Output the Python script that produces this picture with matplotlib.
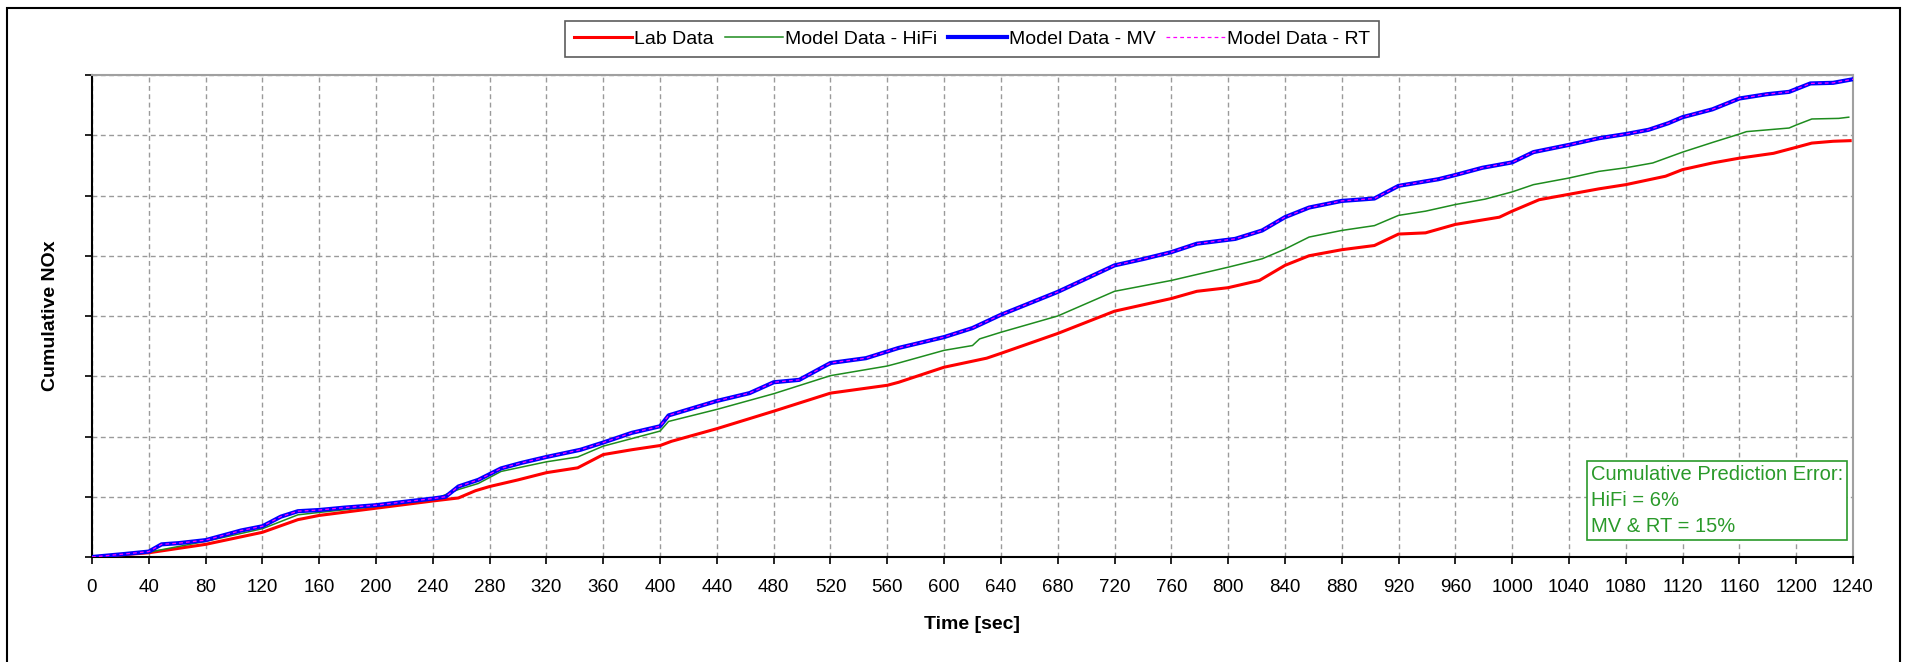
import matplotlib
matplotlib.use('Agg')
import matplotlib.pyplot as plt
from matplotlib.patches import Rectangle

plt.rcParams['font.family'] = ['Liberation Sans', 'DejaVu Sans']

# Values (y in grid units, the chart has no y tick labels)
lab_t = [0, 40, 80, 120, 145, 160, 200, 240, 258, 270, 280, 300, 320, 342, 360, 380, 400, 408,
         440, 480, 520, 560, 568, 600, 630, 640, 680, 720, 760, 778, 800, 822, 840, 857, 880, 903,
         920, 939, 960, 991, 1000, 1019, 1040, 1061, 1080, 1108, 1120, 1141, 1160, 1184, 1200,
         1211, 1226, 1238]
lab_v = [0, 0.07, 0.21, 0.41, 0.62, 0.69, 0.81, 0.93, 0.98, 1.10, 1.17, 1.28, 1.40, 1.48, 1.70,
         1.78, 1.85, 1.92, 2.13, 2.42, 2.72, 2.85, 2.90, 3.15, 3.30, 3.38, 3.71, 4.08, 4.29, 4.41,
         4.47, 4.59, 4.84, 5.00, 5.10, 5.17, 5.36, 5.38, 5.52, 5.64, 5.74, 5.93, 6.02, 6.11, 6.18,
         6.32, 6.43, 6.54, 6.62, 6.70, 6.80, 6.87, 6.90, 6.91]

hifi_t = [0, 40, 80, 120, 145, 160, 200, 240, 258, 272, 288, 320, 342, 360, 400, 406, 440, 480,
          520, 560, 568, 600, 620, 625, 640, 680, 720, 760, 800, 824, 840, 857, 880, 903, 920, 939,
          960, 981, 1000, 1015, 1040, 1061, 1080, 1099, 1120, 1141, 1160, 1165, 1195, 1200, 1211,
          1230, 1237]
hifi_v = [0, 0.08, 0.26, 0.47, 0.70, 0.74, 0.84, 0.95, 1.12, 1.22, 1.42, 1.58, 1.66, 1.84, 2.09,
          2.25, 2.45, 2.71, 3.01, 3.17, 3.22, 3.43, 3.51, 3.62, 3.73, 4.00, 4.41, 4.59, 4.81, 4.95,
          5.11, 5.31, 5.42, 5.50, 5.67, 5.74, 5.85, 5.94, 6.06, 6.18, 6.29, 6.40, 6.46, 6.54, 6.72,
          6.88, 7.02, 7.06, 7.12, 7.17, 7.27, 7.28, 7.30]

mv_t = [0, 23, 40, 49, 61, 80, 91, 105, 120, 133, 145, 160, 178, 200, 225, 240, 249, 258, 272,
        288, 302, 320, 344, 360, 380, 400, 406, 440, 463, 480, 498, 520, 545, 568, 600, 620, 640,
        680, 700, 720, 741, 760, 778, 805, 824, 840, 857, 880, 903, 920, 948, 960, 979, 1000, 1015,
        1040, 1061, 1080, 1096, 1110, 1120, 1141, 1160, 1179, 1195, 1210, 1226, 1240]
mv_v = [0, 0.05, 0.09, 0.21, 0.23, 0.28, 0.35, 0.44, 0.51, 0.67, 0.76, 0.78, 0.82, 0.86, 0.93,
        0.97, 1.00, 1.17, 1.28, 1.47, 1.56, 1.66, 1.78, 1.90, 2.06, 2.17, 2.35, 2.59, 2.72, 2.90,
        2.94, 3.22, 3.30, 3.47, 3.65, 3.80, 4.02, 4.40, 4.62, 4.84, 4.95, 5.06, 5.20, 5.28, 5.42,
        5.64, 5.80, 5.91, 5.95, 6.16, 6.27, 6.34, 6.46, 6.55, 6.72, 6.84, 6.95, 7.02, 7.09, 7.20,
        7.30, 7.43, 7.61, 7.68, 7.72, 7.86, 7.87, 7.93]

# RT model overlays the MV model exactly
rt_t = mv_t
rt_v = mv_v

x_ticks = list(range(0, 1241, 40))
y_ticks = list(range(0, 9))

fig = plt.figure(figsize=(19.06, 6.62), dpi=100)
ax = fig.add_axes([92 / 1906, 1 - 557 / 662, (1853 - 92) / 1906, (557 - 75) / 662])

ax.plot(lab_t, lab_v, color='#ff0000', lw=2.2, label='Lab Data', zorder=3)
ax.plot(hifi_t, hifi_v, color='#1e8c1e', lw=1.1, label='Model Data - HiFi', zorder=3)
ax.plot(mv_t, mv_v, color='#0000ff', lw=3.0, label='Model Data - MV', zorder=4)
ax.plot(rt_t, rt_v, color='#ff00ff', lw=0.9, ls=(0, (3, 2.5)), label='Model Data - RT', zorder=5)

ax.set_xlim(0, 1240)
ax.set_ylim(0, 8)
ax.set_xticks(x_ticks)
ax.set_yticks(y_ticks)
ax.set_yticklabels([])
ax.tick_params(axis='x', labelsize=13.5, length=5, width=1.2, direction='out', pad=11)
ax.tick_params(axis='y', length=5, width=1.2, direction='out')

ax.grid(True, color='#9a9a9a', lw=1.0, ls=(0, (3.5, 2.5)))
ax.set_axisbelow(True)

for s in ['left', 'bottom']:
    ax.spines[s].set_color('black')
    ax.spines[s].set_linewidth(1.5)
for s in ['top', 'right']:
    ax.spines[s].set_color('#a0a0a0')
    ax.spines[s].set_linewidth(1.5)

ax.set_xlabel('Time [sec]', fontsize=14, fontweight='bold', labelpad=14)
ax.set_ylabel('Cumulative NOx', fontsize=14, fontweight='bold', labelpad=15)

leg = fig.legend(loc='center', bbox_to_anchor=(972 / 1906, 1 - 39 / 662), ncol=4, fontsize=14,
                 frameon=True, fancybox=False, handlelength=3.0, handletextpad=0.12,
                 columnspacing=0.55, borderpad=0.45)
leg.get_frame().set_edgecolor('#333333')
leg.get_frame().set_linewidth(1.2)

ax.text(0.851, 0.19, 'Cumulative Prediction Error:\nHiFi = 6%\nMV & RT = 15%',
        transform=ax.transAxes, fontsize=14.5, color='#2a9a2a', va='top', ha='left',
        linespacing=1.45, zorder=6,
        bbox=dict(boxstyle='square,pad=0.2', facecolor='white', edgecolor='#2a9a2a', lw=1.2))

# outer frame around the whole chart
fig.patches.append(Rectangle((7 / 1906, -0.05), (1900 - 7) / 1906, 1.05 - 8 / 662,
                             transform=fig.transFigure, fill=False, edgecolor='black', lw=1.5))

fig.savefig('out.png', dpi=100)
